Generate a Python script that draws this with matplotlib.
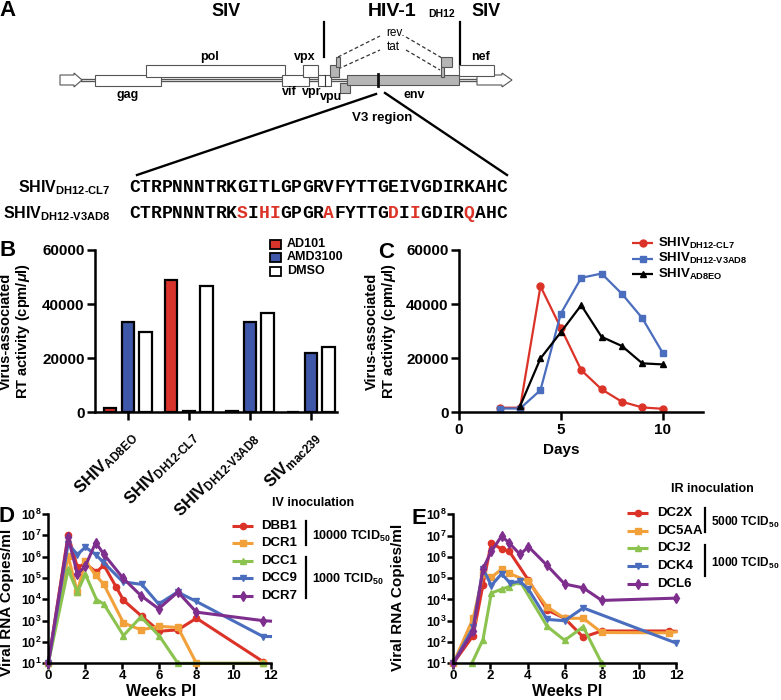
import matplotlib
matplotlib.use("Agg")
import matplotlib.pyplot as plt
from matplotlib.patches import Rectangle, Polygon
from matplotlib.ticker import LogLocator, NullLocator
import numpy as np

plt.rcParams["font.family"] = ["Liberation Sans", "DejaVu Sans"]
plt.rcParams["font.weight"] = "bold"
plt.rcParams["axes.labelweight"] = "bold"
plt.rcParams["mathtext.fontset"] = "custom"
plt.rcParams["mathtext.default"] = "regular"
plt.rcParams["mathtext.rm"] = "Liberation Sans:bold"
plt.rcParams["mathtext.it"] = "Liberation Sans:italic:bold"
plt.rcParams["mathtext.bf"] = "Liberation Sans:bold"
plt.rcParams["axes.linewidth"] = 1.8
plt.rcParams["xtick.major.width"] = 1.8
plt.rcParams["ytick.major.width"] = 1.8
plt.rcParams["xtick.major.size"] = 5.5
plt.rcParams["ytick.major.size"] = 5.5
plt.rcParams["xtick.major.pad"] = 2
plt.rcParams["ytick.major.pad"] = 2

HY = "\u2010"

# ---- panel A: V3 sequences
SEQ_CL7 = "CTRPNNNTRKGITLGPGRVFYTTGEIVGDIRKAHC"
SEQ_V3AD8 = "CTRPNNNTRKSIHIGPGRAFYTTGDIIGDIRQAHC"

# ---- panel B: RT activity with inhibitors
B_VIRUSES = [r"SHIV$_{AD8EO}$", r"SHIV$_{DH12%sCL7}$" % HY,
             r"SHIV$_{DH12%sV3AD8}$" % HY, r"SIV$_{mac239}$"]
B_AD101 = [1700, 49000, 350, 250]
B_AMD3100 = [33300, 400, 33400, 21800]
B_DMSO = [29800, 46800, 36800, 24000]

# ---- panel C: replication kinetics
C_DAYS = [2, 3, 4, 5, 6, 7, 8, 9, 10]
C_CL7 = [1700, 1700, 46600, 31200, 15600, 8500, 3900, 1800, 1300]
C_V3AD8 = [1400, 1400, 8200, 36500, 49700, 51300, 43800, 34800, 22000]
C_DAYS_AD8 = [3, 4, 5, 6, 7, 8, 9, 10]
C_AD8EO = [2300, 19900, 29600, 39600, 27900, 24500, 18100, 17700]

# ---- panel D: IV inoculation viral loads
D_WEEKS = {
    "DBB1": [0, 1.07, 1.57, 2.0, 2.6, 3.0, 3.67, 4.06, 5.05, 6.0, 7.0, 8.0, 11.6],
    "DCR1": [0, 1.07, 1.57, 2.0, 2.56, 3.0, 4.06, 5.0, 6.0, 7.0, 8.0, 11.6],
    "DCC1": [0, 1.07, 1.57, 2.0, 2.6, 3.0, 4.06, 5.0, 6.0, 7.0, 11.6],
    "DCC9": [0, 1.07, 1.57, 2.0, 2.56, 2.95, 4.03, 5.05, 5.96, 6.98, 8.0, 11.6, 12.0],
    "DCR7": [0, 1.07, 1.57, 2.0, 2.56, 3.0, 4.03, 5.0, 5.96, 7.0, 8.0, 11.6, 12.0],
}
D_COPIES = {
    "DBB1": [10, 1.05e7, 3.2e5, 4.7e5, 1.9e5, 4.0e5, 3.7e4, 9.0e3, 1.6e3, 3.2e2, 3.7e2, 1.3e3, 12],
    "DCR1": [10, 1.07e6, 2.2e4, 6.3e5, 1.35e5, 5.0e4, 7.8e2, 3.7e2, 5.4e2, 4.8e2, 10, 10],
    "DCC1": [10, 2.5e5, 2.2e4, 1.5e5, 9.8e3, 6.0e3, 2.0e2, 1.5e3, 1.9e2, 10, 10],
    "DCC9": [10, 4.0e6, 1.26e6, 2.8e6, 1.26e6, 5.7e5, 6.6e4, 5.0e4, 6.0e3, 2.2e4, 7.9e3, 1.8e2, 1.8e2],
    "DCR7": [10, 8.0e6, 1.5e5, 3.6e5, 4.6e6, 1.3e6, 1.0e5, 1.5e4, 3.6e3, 2.2e4, 2.5e3, 1.0e3, 9.5e2],
}

# ---- panel E: IR inoculation viral loads
E_WEEKS = {
    "DC2X": [0, 1.07, 1.6, 2.05, 2.6, 3.0, 4.05, 5.05, 6.0, 7.0, 8.0, 11.6, 12.0],
    "DC5AA": [0, 1.07, 1.6, 2.05, 2.6, 3.0, 4.05, 5.05, 6.0, 7.0, 8.0, 11.6, 12.0],
    "DCJ2": [1.0, 1.6, 2.05, 2.6, 3.0, 3.6, 5.05, 6.0, 7.0, 8.0],
    "DCK4": [0, 1.07, 1.6, 2.05, 2.6, 3.05, 3.6, 4.05, 5.05, 6.0, 7.0, 12.0],
    "DCL6": [0, 1.07, 1.6, 2.05, 2.6, 3.0, 3.6, 4.05, 5.05, 6.0, 7.0, 8.0, 12.0],
}
E_COPIES = {
    "DC2X": [10, 2.0e2, 5.0e4, 4.7e6, 2.3e6, 1.9e6, 8.0e4, 3.2e3, 1.3e3, 1.7e2, 3.3e2, 3.3e2, 3.2e2],
    "DC5AA": [10, 1.3e3, 1.5e5, 1.1e5, 2.6e5, 1.7e5, 7.0e4, 4.5e3, 1.3e3, 1.3e3, 2.8e2, 2.7e2, 3.0e2],
    "DCJ2": [10, 1.3e2, 2.0e4, 3.0e4, 4.0e4, 7.0e4, 5.5e2, 1.2e2, 5.2e2, 10],
    "DCK4": [10, 5.0e2, 2.8e5, 4.5e4, 1.6e5, 6.0e4, 7.0e4, 3.0e4, 1.15e3, 1.0e3, 4.0e3, 90],
    "DCL6": [10, 3.2e2, 2.8e5, 1.8e6, 9.5e6, 4.6e6, 1.3e6, 3.0e6, 4.0e5, 5.3e4, 3.5e4, 9.0e3, 1.15e4],
}

RED = "#dc3328"
ORANGE = "#f2a03a"
GREEN = "#8cc34f"
BLUE = "#4a6dbd"
PURPLE = "#7e2f8e"
BAR_RED = "#d9342b"
BAR_BLUE = "#3f57a8"
SERIES_STYLE = [(RED, "o", 4.5), (ORANGE, "s", 4.5), (GREEN, "^", 5),
                (BLUE, "v", 5), (PURPLE, "d", 5)]

W, H = 781, 700
fig = plt.figure(figsize=(W / 100, H / 100), dpi=100)

# overlay in pixel coordinates for the schematic, keys and panel letters
ov = fig.add_axes([0, 0, 1, 1])
ov.set_xlim(0, W)
ov.set_ylim(H, 0)
ov.axis("off")
ov.set_zorder(10)


def axes_px(l, t, r, b):
    return fig.add_axes([l / W, 1 - b / H, (r - l) / W, (b - t) / H])


def style_axes(ax):
    for side in ("top", "right"):
        ax.spines[side].set_visible(False)
    ax.tick_params(direction="out", colors="black")
    ax.patch.set_visible(False)


def box(x0, x1, y0, y1, fc, ec="#555555"):
    ov.add_patch(Rectangle((x0, y0), x1 - x0, y1 - y0, facecolor=fc,
                           edgecolor=ec, linewidth=0.8, zorder=3))


def key(x0, x1, y, color, marker, ms, lw):
    ov.plot([x0, x1], [y, y], color=color, lw=lw, solid_capstyle="butt")
    ov.plot([(x0 + x1) / 2], [y], marker=marker, color=color, ms=ms)


# ================= panel A =================
ov.text(8, 11, "A", fontsize=16, ha="center", va="center")
ov.text(226, 11, "SIV", fontsize=13, ha="center", va="center")
ov.text(486, 11, "SIV", fontsize=13, ha="center", va="center")
ov.text(392, 11, "HIV-1", fontsize=14, ha="center", va="center")
ov.text(428, 14, "DH12", fontsize=7.5, ha="left", va="center")
ov.plot([324, 324], [22, 57], color="black", lw=1.6)
ov.plot([460, 460], [22, 68], color="black", lw=1.6)

dash = dict(color="#333333", lw=0.9, ls=(0, (3, 2)))
ov.plot([338, 380], [57, 36], **dash)
ov.plot([406, 442], [37, 58], **dash)
ov.plot([338, 380], [69, 50], **dash)
ov.plot([406, 440], [50, 70], **dash)
ov.text(396, 33, "rev.", fontsize=8.5, ha="center", va="center", weight="normal")
ov.text(393, 47, "tat", fontsize=8.5, ha="center", va="center", weight="normal")

ov.plot([82, 477], [79.5, 79.5], color="#555555", lw=2.4, zorder=2)
ov.plot([82, 477], [79.5, 79.5], color="#e6e6e6", lw=0.6, zorder=2)
for pts in ([(60, 75), (74, 75), (74, 73), (82, 80), (74, 87), (74, 85), (60, 85)],
            [(477, 75), (502, 75), (502, 73), (512, 80), (502, 87), (502, 85), (477, 85)]):
    ov.add_patch(Polygon(pts, closed=True, facecolor="white",
                         edgecolor="#555555", lw=0.8, zorder=3))

GRAY = "#b5b5b5"
box(95, 161, 75, 86, "white")      # gag
box(146, 285, 65, 77, "white")     # pol
box(282, 309, 75, 86, "white")     # vif
box(303, 318, 65, 77, "white")     # vpx
box(318, 331, 75, 86, "white")     # vpr
box(330, 339, 65, 77, GRAY)        # tat/rev exon 1
box(336, 340, 57, 67, GRAY)
box(340, 350, 83, 93, GRAY)        # vpu
box(347, 459, 75, 85, GRAY)        # env
box(441, 452, 57, 67, GRAY)        # tat/rev exon 2
box(441, 444, 67, 77, GRAY)
box(459, 494, 65, 76, "white")     # nef
ov.plot([378, 378], [74, 86], color="#111111", lw=2, zorder=4)
ov.plot([325, 325], [75, 86], color="#333333", lw=0.8, zorder=4)

gene_font = dict(fontsize=9, ha="center", va="center")
for x, y, s in [(128, 95, "gag"), (210, 57, "pol"), (289, 92, "vif"),
                (305, 57, "vpx"), (312, 92, "vpr"), (331, 97, "vpu"),
                (414, 95, "env"), (480, 57, "nef")]:
    ov.text(x, y, s, **gene_font)

ov.plot([376, 137], [94, 175], color="black", lw=1.7)
ov.plot([385, 507], [93, 175], color="black", lw=1.7)
ov.text(382, 118, "V3 region", fontsize=9.5, ha="center", va="center")

ov.text(111, 188, r"SHIV$_{DH12%sCL7}$" % HY, fontsize=11.5, ha="right", va="center")
ov.text(111, 214, r"SHIV$_{DH12%sV3AD8}$" % HY, fontsize=11.5, ha="right", va="center")
pitch = 10.8
for i, (a, b) in enumerate(zip(SEQ_CL7, SEQ_V3AD8)):
    xc = 129 + pitch * (i + 0.5)
    ov.text(xc, 188, a, family="Liberation Mono", fontsize=13, weight="bold",
            ha="center", va="center")
    ov.text(xc, 214, b, family="Liberation Mono", fontsize=13, weight="bold",
            ha="center", va="center", color=RED if a != b else "black")

# ================= panel B =================
axB = axes_px(95, 250, 337, 412.3)
style_axes(axB)
xg = np.arange(len(B_VIRUSES))
bw = 0.2
for off, vals, fc in [(-0.29, B_AD101, BAR_RED), (0.0, B_AMD3100, BAR_BLUE),
                      (0.29, B_DMSO, "white")]:
    axB.bar(xg + off, vals, width=bw, color=fc, edgecolor="black",
            linewidth=1.6, zorder=3)
axB.set_xlim(-0.54, 3.43)
axB.set_ylim(0, 60000)
axB.set_yticks([0, 20000, 40000, 60000])
axB.tick_params(axis="y", labelsize=11)
axB.tick_params(axis="x", pad=6)
axB.set_xticks(xg)
axB.set_xticklabels(B_VIRUSES, rotation=45, ha="right", va="top",
                    rotation_mode="anchor", fontsize=12)
axB.set_ylabel("Virus-associated\nRT activity (cpm/$\\mathit{\\mu}$l)", fontsize=10.5,
               linespacing=1.1)
axB.yaxis.set_label_coords(-0.26, 0.5)
ov.text(8, 251, "B", fontsize=16, ha="center", va="center")

for y, fc, s in [(244, BAR_RED, "AD101"), (257.5, BAR_BLUE, "AMD3100"),
                 (271, "white", "DMSO")]:
    ov.add_patch(Rectangle((270, y - 4.5), 11, 9, facecolor=fc,
                           edgecolor="black", lw=1.3))
    ov.text(287, y, s, fontsize=9, ha="left", va="center")

# ================= panel C =================
axC = axes_px(459, 250, 703.4, 412.3)
style_axes(axC)
axC.plot(C_DAYS, C_CL7, color=RED, marker="o", ms=5, lw=1.6, clip_on=False)
axC.plot(C_DAYS, C_V3AD8, color=BLUE, marker="s", ms=5, lw=1.6, clip_on=False)
axC.plot(C_DAYS_AD8, C_AD8EO, color="black", marker="^", ms=5, lw=1.6, clip_on=False)
axC.set_xlim(0, 12)
axC.set_ylim(0, 60000)
axC.set_xticks([0, 5, 10])
axC.set_yticks([0, 20000, 40000, 60000])
axC.tick_params(labelsize=11)
axC.set_xlabel("Days", fontsize=11)
axC.xaxis.set_label_coords(0.418, -0.19)
axC.set_ylabel("Virus-associated\nRT activity (cpm/$\\mathit{\\mu}$l)", fontsize=10.5,
               linespacing=1.1)
axC.yaxis.set_label_coords(-0.25, 0.5)
ov.text(386, 252, "C", fontsize=16, ha="center", va="center")

for y, color, marker, s in [(243, RED, "o", r"SHIV$_{DH12%sCL7}$" % HY),
                            (258.5, BLUE, "s", r"SHIV$_{DH12%sV3AD8}$" % HY),
                            (274, "black", "^", r"SHIV$_{AD8EO}$")]:
    key(632, 653, y, color, marker, 5, 1.6)
    ov.text(658, y, s, fontsize=9.5, ha="left", va="center")


# ================= panels D and E =================
def viral_panel(ax, weeks, copies):
    style_axes(ax)
    for (name, wk), (color, marker, ms) in zip(weeks.items(), SERIES_STYLE):
        vals = copies[name]
        n = len(wk)
        every = list(range(n - 1)) if wk[-1] == 12.0 and wk[-2] == 11.6 else None
        ax.plot(wk, vals, color=color, marker=marker, ms=ms, lw=2.2,
                clip_on=False, markevery=every)
    ax.set_yscale("log")
    ax.set_xlim(0, 12)
    ax.set_ylim(10, 1e8)
    ax.yaxis.set_major_locator(LogLocator(base=10, numticks=10))
    ax.yaxis.set_minor_locator(NullLocator())
    ax.set_xticks(range(0, 13, 2))
    ax.tick_params(length=4, pad=1)
    ax.tick_params(axis="x", labelsize=9.5)
    ax.tick_params(axis="y", labelsize=9)
    ax.set_xlabel("Weeks PI", fontsize=11.5)
    ax.set_ylabel("Viral RNA Copies/ml", fontsize=11)
    ax.xaxis.set_label_coords(0.51, -0.14)


axD = axes_px(48.3, 514, 270.5, 663.3)
viral_panel(axD, D_WEEKS, D_COPIES)
axD.yaxis.set_label_coords(-0.155, 0.41)
ov.text(7, 517, "D", fontsize=16, ha="center", va="center")

axE = axes_px(453.3, 514.3, 676, 663.3)
viral_panel(axE, E_WEEKS, E_COPIES)
axE.yaxis.set_label_coords(-0.215, 0.44)
ov.text(419, 518, "E", fontsize=16, ha="center", va="center")

ov.text(313, 503, "IV inoculation", fontsize=9, ha="center", va="center")
for (name, _), (color, marker, ms), y in zip(D_WEEKS.items(), SERIES_STYLE,
                                             [526, 543, 560.5, 578, 596]):
    key(232, 253, y, color, marker, ms, 2.2)
    ov.text(261, y, name, fontsize=9.5, ha="left", va="center")
ov.plot([306, 306], [520.5, 545], color="black", lw=1.6)
ov.plot([306, 306], [557, 598], color="black", lw=1.6)
ov.text(312, 536, "10000 TCID$_{50}$", fontsize=9, ha="left", va="center")
ov.text(312, 579, "1000 TCID$_{50}$", fontsize=9, ha="left", va="center")

ov.text(712, 489, "IR inoculation", fontsize=9, ha="center", va="center")
for (name, _), (color, marker, ms), y in zip(E_WEEKS.items(), SERIES_STYLE,
                                             [513, 530.5, 548, 566, 584]):
    key(627, 648, y, color, marker, ms, 2.2)
    ov.text(657, y, name, fontsize=9.5, ha="left", va="center")
ov.plot([705, 705], [508, 532], color="black", lw=1.6)
ov.plot([705, 705], [545, 576], color="black", lw=1.6)
ov.text(711, 522, "5000 TCID$_{50}$", fontsize=8.6, ha="left", va="center")
ov.text(711, 563, "1000 TCID$_{50}$", fontsize=8.6, ha="left", va="center")

fig.savefig("out.png", dpi=100)
